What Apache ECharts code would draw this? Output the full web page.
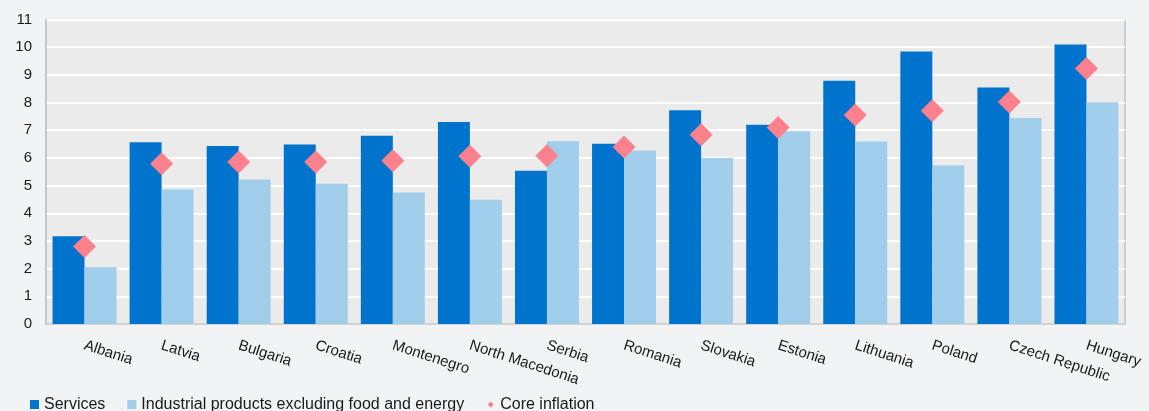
<!DOCTYPE html>
<html>
<head>
<meta charset="utf-8">
<script src="https://cdn.jsdelivr.net/npm/echarts@6/dist/echarts.min.js"></script>
<style>
  html, body { margin: 0; padding: 0; background: #f2f3f5; }
  #main { width: 1149px; height: 411px; }
</style>
</head>
<body>
<div id="main"></div>
<script>
// data
var countries = ['Albania', 'Latvia', 'Bulgaria', 'Croatia', 'Montenegro', 'North Macedonia', 'Serbia',
    'Romania', 'Slovakia', 'Estonia', 'Lithuania', 'Poland', 'Czech Republic', 'Hungary'];
var services = [3.17, 6.57, 6.43, 6.48, 6.8, 7.3, 5.54, 6.51, 7.72, 7.2, 8.79, 9.84, 8.54, 10.1];
var industrial = [2.05, 4.86, 5.22, 5.07, 4.75, 4.49, 6.6, 6.27, 6.0, 6.96, 6.59, 5.73, 7.44, 8.01];
var coreInflation = [2.8, 5.79, 5.85, 5.85, 5.9, 6.06, 6.08, 6.39, 6.84, 7.1, 7.55, 7.7, 8.02, 9.23];
var yTicks = [0, 11, 1]; // min, max, interval

var myChart = echarts.init(document.getElementById('main'));

var fontFamily = '"Liberation Sans", Arial, sans-serif';
// small diamond inside a larger invisible box, so the legend icon stays small
var smallDiamond = 'path://M0,0L0.01,0M15,15L15.01,15M7.5,2.5L12.5,7.5L7.5,12.5L2.5,7.5Z';

var option = {
    backgroundColor: '#f2f3f5',
    textStyle: {fontFamily: fontFamily},
    legend: {
        left: 25,
        top: 391.5,
        itemWidth: 9,
        itemHeight: 9,
        itemGap: 22,
        textStyle: {fontSize: 16, color: '#1a1a1a', fontFamily: fontFamily},
        data: [
            {name: 'Services', icon: 'rect'},
            {name: 'Industrial products excluding food and energy', icon: 'rect'},
            {name: 'Core inflation', icon: smallDiamond}
        ]
    },
    grid: {
        left: 46, right: 24, top: 19.5, bottom: 87,
        show: true,
        backgroundColor: '#ebebeb',
        borderColor: '#c3c3c3',
        borderWidth: 1.5
    },
    xAxis: {
        type: 'category',
        data: countries,
        axisLine: {lineStyle: {color: '#c3c3c3', width: 1.5}},
        axisTick: {show: false},
        axisLabel: {
            rotate: -18,
            margin: 21,
            fontSize: 15,
            color: '#1a1a1a',
            interval: 0
        }
    },
    yAxis: {
        type: 'value',
        min: yTicks[0],
        max: yTicks[1],
        interval: yTicks[2],
        axisLine: {show: true, lineStyle: {color: '#c3c3c3', width: 1.5}},
        axisTick: {show: false},
        axisLabel: {fontSize: 15, color: '#1a1a1a', margin: 14},
        splitLine: {lineStyle: {color: '#ffffff', width: 2}}
    },
    series: [
        {
            name: 'Services',
            type: 'bar',
            data: services,
            barGap: '0%',
            barCategoryGap: '17%',
            itemStyle: {color: '#0074cd'}
        },
        {
            name: 'Industrial products excluding food and energy',
            type: 'bar',
            data: industrial,
            itemStyle: {color: '#a1ceea'}
        },
        {
            name: 'Core inflation',
            type: 'scatter',
            data: coreInflation,
            symbol: 'diamond',
            symbolSize: 23,
            itemStyle: {color: '#ff818d', opacity: 1},
            z: 5
        }
    ]
};

myChart.setOption(option);
</script>
</body>
</html>
